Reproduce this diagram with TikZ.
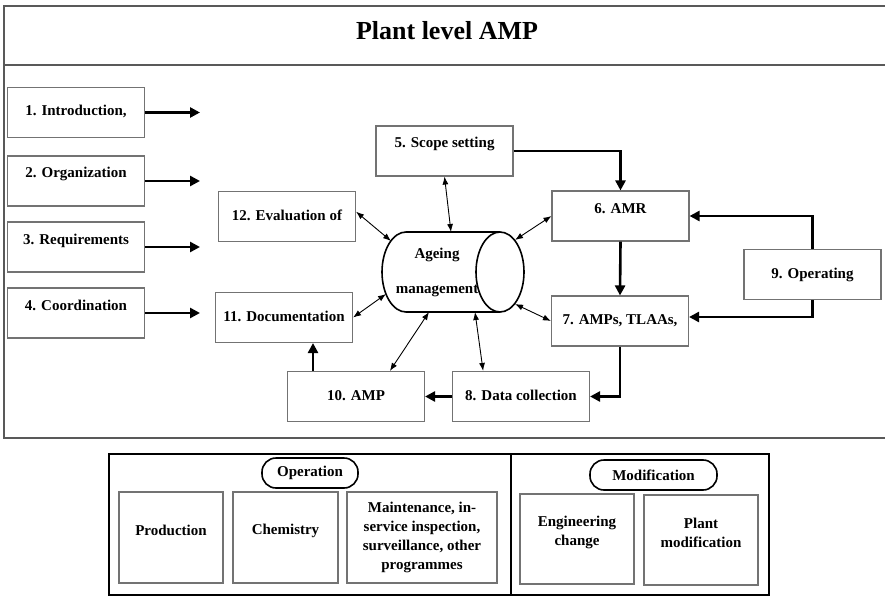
\documentclass[tikz,border=0pt]{standalone}
\usepackage{fontspec}
\setmainfont{Liberation Serif}
\usetikzlibrary{arrows.meta}

\tikzset{
  box/.style={draw=black!55, line width=1.1pt, minimum width=137pt, minimum height=50pt, inner sep=0pt,
    text height=10pt, text depth=3pt, font=\fontsize{15}{18}\selectfont\bfseries},
  upper/.style={text depth=16pt},
  bbox/.style={draw=black!55, line width=1.1pt, inner sep=0pt},
  txt/.style={inner sep=0pt, align=center, font=\fontsize{15}{19}\selectfont\bfseries},
  oval/.style={draw, line width=1.6pt, rounded corners=14pt, inner sep=0pt, minimum height=30pt,
    font=\fontsize{15}{18}\selectfont\bfseries},
  flow/.style={line width=2.6pt, -{Triangle[length=10pt,width=10pt]}},
  link/.style={line width=0.9pt, {Latex[length=8pt,width=6pt]}-{Latex[length=8pt,width=6pt]}},
  frame/.style={draw=black!65, line width=1.5pt}
}

\begin{document}
\begin{tikzpicture}[x=1pt,y=1pt,yscale=-1,xscale=1]
    \useasboundingbox (0,0) rectangle (885,596);

    %Shape: Rectangle (title frame)
    \draw[frame] (4,6) rectangle (892,65) ;
    %Shape: Rectangle (process frame)
    \draw[frame] (4,65) rectangle (892,438) ;

    % Text Node
    \node (title) at (447,31) {\fontsize{26}{30}\selectfont\bfseries Plant level AMP};

    % left boxes
    \node (s1) [box] at (76,112.5) {1. Introduction,};
    \node (s2) [box,upper] at (76,181) {2. Organization};
    \node (s3) [box,upper] at (76,247) {3. Requirements};
    \node (s4) [box,upper] at (76,313) {4. Coordination};
    \coordinate (e1) at (200,112.5);
    \coordinate (e2) at (200,181);
    \coordinate (e3) at (200,247);
    \coordinate (e4) at (200,313);

    % process boxes
    \node (s5) [box,upper] at (444.5,151) {5. Scope setting};
    \node (s6) [box,upper] at (620.5,216) {6. AMR};
    \node (s7) [box] at (620,321) {7. AMPs, TLAAs,};
    \node (s8) [box] at (521,396.5) {8. Data collection};
    \node (s9) [box] at (812.5,274.5) {9. Operating};
    \node (s10) [box] at (356,396.5) {10. AMP};
    \node (s11) [box] at (284,317.5) {11. Documentation};
    \node (s12) [box] at (287,216.5) {12. Evaluation of};

    %Shape: Cylinder
    \draw[line width=1.6pt] (500,232) -- (406,232) .. controls (392.75,232) and (382,249.91) .. (382,272) .. controls (382,294.09) and (392.75,312) .. (406,312) -- (500,312) ;
    \draw[line width=1.6pt] (500,272) ellipse [x radius=24, y radius=40] ;
    \node (amgtxt) [txt] at (437,272.5) {Ageing\\[16pt]management};
    \coordinate (a5) at (451,232);
    \coordinate (a6) at (515,240);
    \coordinate (a7) at (515,304);
    \coordinate (a8) at (475,312);
    \coordinate (a10) at (429,312);
    \coordinate (a11) at (386,294);
    \coordinate (a12) at (391,241);

    %Straight Lines
    \draw[flow] (s1.east) -- (e1) ;
    \draw[flow] (s2.east) -- (e2) ;
    \draw[flow] (s3.east) -- (e3) ;
    \draw[flow] (s4.east) -- (e4) ;
    \draw[flow] (s5.east) -| (s6.north) ;
    \draw[flow] (s6.south) -- (s7.north) ;
    \draw[flow] (s9.north) |- (s6.east) ;
    \draw[flow] (s9.south) |- ([yshift=-4pt]s7.east) ;
    \draw[flow] (s7.south) |- (s8.east) ;
    \draw[flow] (s8.west) -- (s10.east) ;
    \coordinate (c10) at (313,0);
    \draw[flow] (c10 |- s10.north) -- (c10 |- s11.south) ;

    %Straight Lines (both ways)
    \draw[link] (a5) -- (s5.south) ;
    \draw[link] (a6) -- (s6.west) ;
    \draw[link] (a7) -- (s7.west) ;
    \draw[link] (a8) -- (s8.146) ;
    \draw[link] (a10) -- (s10.37) ;
    \draw[link] (a12) -- (s12.4) ;
    \draw[link] (a11) -- (s11.east) ;

    %Shape: Rectangle (operation and modification)
    \draw[line width=1.8pt] (109,454) rectangle (769,595) ;
    \draw[line width=1.8pt] (511,454) -- (511,595) ;

    \node (op) [oval, minimum width=96pt] at (310,473) {Operation};
    \node (mod) [oval, minimum width=127pt] at (653.5,475) {Modification};

    \node (prod) [bbox, minimum width=104pt, minimum height=91pt] at (171,537.5) {};
    \node (chem) [bbox, minimum width=105pt, minimum height=91pt] at (285.5,537.5) {};
    \node (mnt) [bbox, minimum width=150pt, minimum height=91pt] at (422,537.5) {};
    \node (eng) [bbox, minimum width=114pt, minimum height=90pt] at (577,539) {};
    \node (plm) [bbox, minimum width=114pt, minimum height=90pt] at (701,540) {};

    % Text Node
    \node (prodtxt) [txt] at (171,530) {Production};
    \node (chemtxt) [txt] at (285.5,531) {Chemistry};
    \node (mnttxt) [txt] at (422,537) {Maintenance, in-\\service inspection,\\surveillance, other\\programmes};
    \node (engtxt) [txt] at (577,532) {Engineering\\change};
    \node (plmtxt) [txt] at (701,532.5) {Plant\\modification};
\end{tikzpicture}
\end{document}
